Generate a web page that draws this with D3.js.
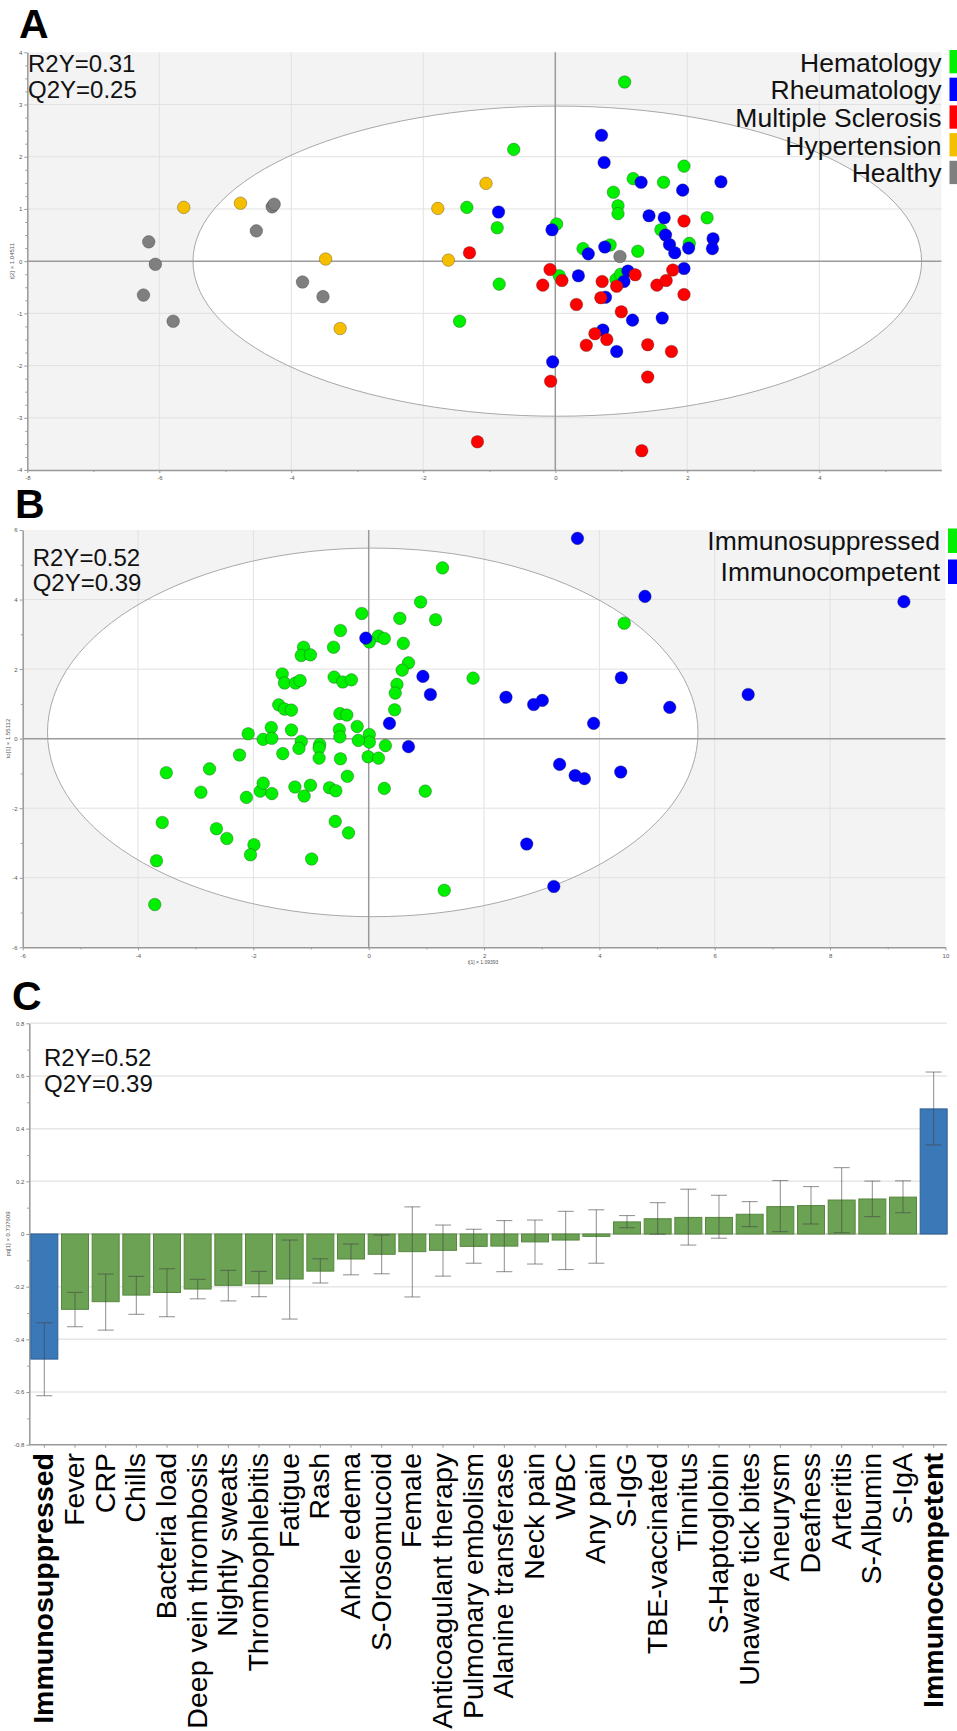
<!DOCTYPE html>
<html>
<head>
<meta charset="utf-8">
<script src="https://cdn.jsdelivr.net/npm/d3@7"></script>
<style>
  body { margin: 0; background: #fff; }
  svg { display: block; font-family: "Liberation Sans", Arial, sans-serif; }
</style>
</head>
<body>
<svg id="fig" width="957" height="1731"></svg>
<script>
// ---- panel A : scores t[1] / t[2] per diagnosis group ----
const hematology = [[-1.34,1.03],[-1.45,-1.15],[-0.63,2.14],[-0.88,0.64],[-0.85,-0.44],[1.05,3.43],[0.02,0.71],
  [0.06,-0.28],[0.42,0.24],[0.88,1.32],[0.95,1.06],[0.95,0.91],[0.83,0.31],[1.18,1.58],[1.64,1.51],[1.95,1.82],
  [1.25,0.19],[1.60,0.60],[2.03,0.34],[2.30,0.83],[0.92,-0.35],[0.99,-0.25]];
const rheumatology = [[0.70,2.41],[0.74,1.89],[-0.86,0.94],[-0.05,0.60],[1.30,1.51],[1.93,1.36],[2.51,1.52],
  [1.42,0.87],[1.65,0.83],[1.67,0.50],[1.73,0.32],[1.81,0.16],[2.02,0.25],[2.39,0.43],[2.38,0.24],[0.75,0.27],
  [0.50,0.14],[0.35,-0.28],[1.10,-0.19],[1.04,-0.39],[1.95,-0.14],[0.76,-0.69],[1.17,-1.13],[1.62,-1.09],
  [0.72,-1.32],[0.93,-1.73],[-0.04,-1.93]];
const msclerosis = [[-1.30,0.16],[-1.18,-3.46],[1.95,0.77],[-0.08,-0.16],[-0.19,-0.46],[0.10,-0.37],[0.71,-0.39],
  [0.93,-0.48],[0.69,-0.70],[0.32,-0.83],[1.21,-0.26],[1.54,-0.46],[1.68,-0.37],[1.78,-0.17],[1.95,-0.64],
  [1.00,-0.97],[0.60,-1.39],[0.78,-1.50],[0.47,-1.61],[1.40,-1.60],[1.76,-1.73],[1.40,-2.22],[-0.07,-2.30],
  [1.31,-3.63]];
const hypertension = [[-5.63,1.03],[-4.77,1.11],[-3.48,0.04],[-3.26,-1.29],[-1.78,1.01],[-1.62,0.02],[-1.05,1.49]];
const healthy = [[-6.16,0.37],[-6.06,-0.06],[-6.24,-0.65],[-5.79,-1.15],[-4.53,0.58],[-4.29,1.04],[-4.26,1.09],
  [-3.83,-0.40],[-3.52,-0.68],[0.98,0.09]];
const groupNamesA = ["Hematology","Rheumatology","Multiple Sclerosis","Hypertension","Healthy"];
const groupColorsA = ["#00f000","#0000ff","#ff0000","#f5bf00","#7f7f7f"];

// ---- panel B : OPLS-DA scores ----
const immunosuppressed = [[1.28,4.91],[0.90,3.93],[1.16,3.42],[-0.12,3.60],[0.54,3.46],[-0.49,3.11],[0.17,2.95],
  [0.27,2.88],[0.01,2.78],[0.60,2.74],[-0.61,2.63],[-1.13,2.63],[-1.17,2.39],[-1.01,2.41],[0.69,2.18],[0.58,1.97],
  [0.49,1.56],[0.46,1.31],[0.45,0.83],[-1.50,1.86],[-1.46,1.60],[-1.27,1.60],[-1.19,1.67],[-0.60,1.77],
  [-0.45,1.63],[-0.30,1.69],[-1.56,0.97],[-1.46,0.85],[-1.34,0.82],[-0.50,0.72],[-0.38,0.68],[-0.20,0.35],
  [-0.51,0.26],[-0.50,0.05],[0.01,0.12],[0.01,-0.10],[-0.18,-0.05],[0.29,-0.20],[-0.01,-0.52],[0.17,-0.56],
  [-0.49,-0.58],[-0.37,-1.08],[0.27,-1.43],[0.98,-1.51],[-1.69,0.32],[-1.34,0.25],[-2.09,0.14],[-1.83,-0.02],
  [-1.68,0.01],[-1.17,-0.08],[-1.21,-0.28],[-0.85,-0.17],[-0.86,-0.27],[-0.86,-0.56],[-1.49,-0.43],[-2.24,-0.47],
  [-2.76,-0.87],[-3.51,-0.98],[-2.91,-1.54],[-2.12,-1.69],[-1.88,-1.51],[-1.83,-1.28],[-1.68,-1.58],[-1.28,-1.39],
  [-1.12,-1.65],[-1.01,-1.34],[-0.68,-1.41],[-0.57,-1.50],[-0.58,-2.38],[-0.35,-2.71],[-3.58,-2.41],[-2.64,-2.59],
  [-2.46,-2.87],[-1.99,-3.05],[-2.05,-3.34],[-0.99,-3.46],[-3.68,-3.51],[-3.71,-4.77],[1.31,-4.36],[1.81,1.74],
  [4.43,3.32]];
const immunocompetent = [[-0.05,2.89],[0.94,1.79],[1.07,1.27],[0.36,0.44],[0.69,-0.23],[3.62,5.76],[4.79,4.09],
  [9.28,3.94],[4.38,1.75],[6.58,1.27],[2.38,1.19],[2.86,0.98],[3.01,1.10],[5.22,0.90],[3.90,0.44],[3.31,-0.74],
  [3.58,-1.06],[3.74,-1.15],[4.37,-0.96],[2.74,-3.03],[3.21,-4.25]];
const groupNamesB = ["Immunosuppressed","Immunocompetent"];
const groupColorsB = ["#00f000","#0000ff"];

// ---- panel C : loadings with confidence intervals ----
const variables = ["Immunosuppressed","Fever","CRP","Chills","Bacteria load","Deep vein thrombosis","Nightly sweats",
  "Thrombophlebitis","Fatigue","Rash","Ankle edema","S-Orosomucoid","Female","Anticoagulant therapy",
  "Pulmonary embolism","Alanine transferase","Neck pain","WBC","Any pain","S-IgG","TBE-vaccinated","Tinnitus",
  "S-Haptoglobin","Unaware tick bites","Aneurysm","Deafness","Arteritis","S-Albumin","S-IgA","Immunocompetent"];
const loadings = [-0.475,-0.286,-0.257,-0.232,-0.222,-0.209,-0.195,-0.189,-0.171,-0.141,-0.095,-0.077,-0.067,
  -0.062,-0.047,-0.046,-0.030,-0.023,-0.009,0.046,0.058,0.063,0.063,0.075,0.104,0.108,0.129,0.133,0.140,0.475];
const ciHigh = [-0.337,-0.222,-0.152,-0.161,-0.132,-0.172,-0.138,-0.142,-0.023,-0.094,-0.038,-0.004,0.103,0.034,
  0.018,0.051,0.053,0.086,0.092,0.070,0.119,0.170,0.147,0.123,0.203,0.180,0.252,0.201,0.202,0.615];
const ciLow = [-0.614,-0.352,-0.365,-0.305,-0.314,-0.246,-0.254,-0.238,-0.323,-0.186,-0.155,-0.151,-0.239,-0.160,
  -0.111,-0.143,-0.114,-0.135,-0.111,0.024,-0.001,-0.042,-0.016,0.028,0.009,0.038,0.005,0.066,0.081,0.338];

const svg = d3.select("#fig");
svg.append("rect").attr("width",957).attr("height",1731).attr("fill","#fff");

function panelLetter(txt, x, y) {
  svg.append("text").attr("x",x).attr("y",y).text(txt)
    .attr("font-size",41).attr("font-weight","bold").attr("fill","#000");
}

function statsText(x, y, lines) {
  lines.forEach((l,i) => {
    svg.append("text").attr("x",x).attr("y",y+i*25.5).text(l)
      .attr("font-size",24).attr("fill","#111");
  });
}

function styleAxis(ax) {
  ax.select(".domain").attr("stroke","#999").attr("stroke-width",1.5);
  ax.selectAll(".tick line").attr("stroke","#999");
  ax.selectAll(".tick text").attr("font-size",6).attr("fill","#555").attr("font-family","Liberation Sans, Arial");
}

function scatter(id, o) {
  let x = d3.scaleLinear().domain(o.xDomain).range(o.xRange);
  let y = d3.scaleLinear().domain(o.yDomain).range(o.yRange);
  let left = o.xRange[0], right = o.xRange[1], bottom = o.yRange[0], top = o.yRange[1];
  let g = svg.append("g");

  g.append("clipPath").attr("id",id).append("rect")
    .attr("x",left).attr("y",top).attr("width",right-left).attr("height",bottom-top);
  g.append("rect").attr("x",left).attr("y",top).attr("width",right-left).attr("height",bottom-top)
    .attr("fill","#f3f3f3");
  g.append("ellipse").attr("clip-path",`url(#${id})`)
    .attr("cx",x(o.ell[0])).attr("cy",y(o.ell[1]))
    .attr("rx",x(o.ell[2])-x(0)).attr("ry",y(0)-y(o.ell[3]))
    .attr("fill","#fff");

  // grid
  g.selectAll(".gx").data(o.gridX).enter().append("line")
    .attr("x1",d=>x(d)).attr("x2",d=>x(d)).attr("y1",top).attr("y2",bottom)
    .attr("stroke","#e1e1e1").attr("stroke-width",1);
  g.selectAll(".gy").data(o.gridY).enter().append("line")
    .attr("y1",d=>y(d)).attr("y2",d=>y(d)).attr("x1",left).attr("x2",right)
    .attr("stroke","#e1e1e1").attr("stroke-width",1);

  g.append("ellipse").attr("clip-path",`url(#${id})`)
    .attr("cx",x(o.ell[0])).attr("cy",y(o.ell[1]))
    .attr("rx",x(o.ell[2])-x(0)).attr("ry",y(0)-y(o.ell[3]))
    .attr("fill","none").attr("stroke","#a8a8a8").attr("stroke-width",1);

  // zero lines
  g.append("line").attr("x1",x(0)).attr("x2",x(0)).attr("y1",top).attr("y2",bottom)
    .attr("stroke","#9a9a9a").attr("stroke-width",1.5);
  g.append("line").attr("y1",y(0)).attr("y2",y(0)).attr("x1",left).attr("x2",right)
    .attr("stroke","#9a9a9a").attr("stroke-width",1.5);

  // axes
  let ax = g.append("g").attr("transform",`translate(0,${bottom})`)
    .call(d3.axisBottom(x).tickValues(o.ticksX).tickSize(3).tickSizeOuter(0).tickPadding(3).tickFormat(d=>String(d)));
  styleAxis(ax);
  let axm = g.append("g").attr("transform",`translate(0,${bottom})`)
    .call(d3.axisBottom(x).tickValues(o.minorX).tickSize(2).tickSizeOuter(0).tickFormat(""));
  styleAxis(axm); axm.select(".domain").remove();
  let ay = g.append("g").attr("transform",`translate(${left},0)`)
    .call(d3.axisLeft(y).tickValues(o.ticksY).tickSize(3).tickSizeOuter(0).tickPadding(2).tickFormat(d=>String(d)));
  styleAxis(ay);
  let aym = g.append("g").attr("transform",`translate(${left},0)`)
    .call(d3.axisLeft(y).tickValues(o.minorY).tickSize(2).tickSizeOuter(0).tickFormat(""));
  styleAxis(aym); aym.select(".domain").remove();

  g.append("text").attr("transform",`translate(${left-13},${(top+bottom)/2}) rotate(-90)`)
    .attr("text-anchor","middle").attr("font-size",6).attr("fill","#555").text(o.yLabel);
  if (o.xLabel) {
    g.append("text").attr("x",o.xLabel[1]).attr("y",bottom+17).attr("text-anchor","middle")
      .attr("font-size",5).attr("fill","#555").text(o.xLabel[0]);
  }

  // points
  o.groups.forEach((pts,i) => {
    g.append("g").selectAll("circle").data(pts).enter().append("circle")
      .attr("cx",d=>x(d[0])).attr("cy",d=>y(d[1])).attr("r",6.3)
      .attr("fill",o.colors[i]).attr("stroke","rgba(40,40,40,0.45)").attr("stroke-width",0.7);
  });

  // legend, right aligned with swatches at the edge
  o.names.forEach((n,i) => {
    g.append("text").attr("x",o.legend.x).attr("y",o.legend.y+i*o.legend.step)
      .attr("text-anchor","end").attr("font-size",26.5).attr("fill","#111").text(n);
    g.append("rect").attr("x",o.legend.x+8).attr("y",o.legend.y+i*o.legend.step-21.5)
      .attr("width",12).attr("height",o.legend.h).attr("fill",o.colors[i]);
  });
}

// ---- A ----
panelLetter("A", 19, 37.5);
scatter("clipA", {
  xDomain:[-8,5.85], xRange:[27.3,941.4], yDomain:[-4,4], yRange:[470,52.3],
  ell:[0.03,0,5.52,2.97],
  gridX:[-6,-4,-2,2,4], gridY:[-3,-2,-1,1,2,3],
  ticksX:[-8,-6,-4,-2,0,2,4], minorX:[-7,-5,-3,-1,1,3,5],
  ticksY:[-4,-3,-2,-1,0,1,2,3,4], minorY:d3.range(-3.75,4,0.25).filter(v=>v%1!==0),
  yLabel:"t[2] × 1.04511",
  groups:[hematology,rheumatology,msclerosis,hypertension,healthy],
  colors:groupColorsA, names:groupNamesA,
  legend:{x:941.5,y:71.5,step:27.7,h:23.3}
});
statsText(28, 72.3, ["R2Y=0.31","Q2Y=0.25"]);

// ---- B ----
panelLetter("B", 15, 518);
scatter("clipB", {
  xDomain:[-6,10], xRange:[22.7,945.4], yDomain:[-6,6], yRange:[947.3,530],
  ell:[0.07,0.18,5.64,5.3],
  gridX:[-4,-2,2,4,6,8], gridY:[-4,-2,2,4],
  ticksX:[-6,-4,-2,0,2,4,6,8,10], minorX:[-5,-3,-1,1,3,5,7,9],
  ticksY:[-6,-4,-2,0,2,4,6], minorY:[-5,-3,-1,1,3,5],
  yLabel:"to[1] × 1.55112", xLabel:["t[1] × 1.09393",483],
  groups:[immunosuppressed,immunocompetent],
  colors:groupColorsB, names:groupNamesB,
  legend:{x:940,y:550,step:31,h:24.5}
});
statsText(32.7, 565.7, ["R2Y=0.52","Q2Y=0.39"]);

// ---- C ----
panelLetter("C", 12, 1010);
{
  let x = d3.scaleBand().domain(variables).range([29,949]).paddingInner(0.12).paddingOuter(0.06);
  let y = d3.scaleLinear().domain([-0.8,0.8]).range([1444.7,1023.3]);
  let g = svg.append("g");
  let left = 29.3, right = 947;

  g.selectAll(".grid").data([0.8,0.6,0.4,0.2,0,-0.2,-0.4,-0.6]).enter().append("line")
    .attr("x1",left).attr("x2",right).attr("y1",d=>y(d)).attr("y2",d=>y(d))
    .attr("stroke",d=>d===0?"#c8c8c8":"#e6e6e6").attr("stroke-width",1.5);

  let ay = g.append("g").attr("transform",`translate(${left},0)`)
    .call(d3.axisLeft(y).tickValues([0.8,0.6,0.4,0.2,0,-0.2,-0.4,-0.6,-0.8]).tickSize(3).tickSizeOuter(0)
      .tickPadding(2).tickFormat(d=>d===0?"0":d.toFixed(1)));
  styleAxis(ay);
  let aym = g.append("g").attr("transform",`translate(${left},0)`)
    .call(d3.axisLeft(y).tickValues([0.7,0.5,0.3,0.1,-0.1,-0.3,-0.5,-0.7]).tickSize(2).tickSizeOuter(0).tickFormat(""));
  styleAxis(aym); aym.select(".domain").remove();

  let ax = g.append("g").attr("transform",`translate(0,${y(-0.8)})`)
    .call(d3.axisBottom(x).tickSize(3).tickSizeOuter(0).tickFormat(""));
  styleAxis(ax);
  ax.select(".domain").attr("d",`M${left},0H${right}`);

  g.append("text").attr("transform",`translate(10,${y(0)}) rotate(-90)`)
    .attr("text-anchor","middle").attr("font-size",6).attr("fill","#555").text("pq[1] × 0.737609");

  let isEnd = (d,i) => i===0 || i===variables.length-1;
  g.selectAll(".bar").data(loadings).enter().append("rect")
    .attr("x",(d,i)=>x(variables[i])).attr("width",x.bandwidth())
    .attr("y",d=>y(Math.max(0,d))).attr("height",d=>Math.abs(y(d)-y(0)))
    .attr("fill",(d,i)=>isEnd(d,i)?"#3b78b7":"#6ba253")
    .attr("stroke",(d,i)=>isEnd(d,i)?"#2d5f94":"#56883f").attr("stroke-width",1);

  let cap = 8;
  variables.forEach((v,i) => {
    let cx = x(v) + x.bandwidth()/2;
    let eg = g.append("g").attr("stroke","#444").attr("stroke-opacity",0.55).attr("stroke-width",1.1);
    eg.append("line").attr("x1",cx).attr("x2",cx).attr("y1",y(ciHigh[i])).attr("y2",y(ciLow[i]));
    eg.append("line").attr("x1",cx-cap).attr("x2",cx+cap).attr("y1",y(ciHigh[i])).attr("y2",y(ciHigh[i]));
    eg.append("line").attr("x1",cx-cap).attr("x2",cx+cap).attr("y1",y(ciLow[i])).attr("y2",y(ciLow[i]));
  });

  g.selectAll(".lab").data(variables).enter().append("text")
    .attr("transform",d=>`translate(${x(d)+x.bandwidth()/2+9},1453) rotate(-90)`)
    .attr("text-anchor","end").attr("font-size",28.5)
    .attr("font-weight",(d,i)=>isEnd(d,i)?"bold":"normal")
    .attr("fill","#000").text(d=>d);

  statsText(44, 1066, ["R2Y=0.52","Q2Y=0.39"]);
}
</script>
</body>
</html>
